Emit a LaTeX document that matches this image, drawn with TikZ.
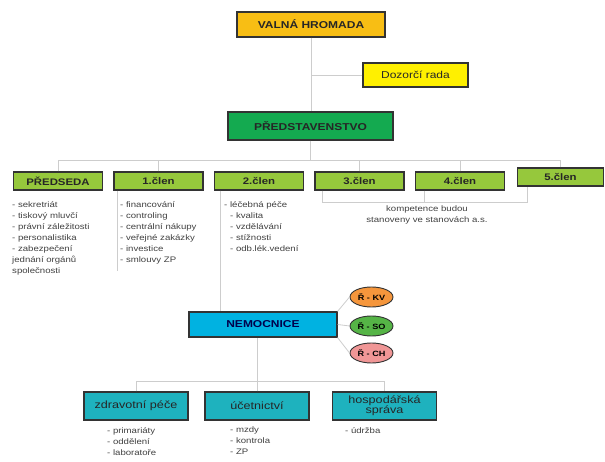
\documentclass[tikz,border=0pt]{standalone}
\usepackage{fontspec}
\setmainfont{Liberation Sans}[FakeStretch=1.2]
\usetikzlibrary{positioning,shapes.geometric}
\definecolor{valnaorange}{RGB}{248,190,20}
\definecolor{dozoryellow}{RGB}{255,240,0}
\definecolor{predgreen}{RGB}{20,170,80}
\definecolor{clengreen}{RGB}{150,200,60}
\definecolor{nemcyan}{RGB}{0,178,225}
\definecolor{oddteal}{RGB}{30,178,190}
\definecolor{kvorange}{RGB}{245,150,60}
\definecolor{sogreen}{RGB}{85,180,70}
\definecolor{chpink}{RGB}{240,150,150}
\definecolor{linegray}{RGB}{205,205,205}

\begin{document}
\begin{tikzpicture}[x=1pt,y=-1pt,node distance=100.5pt,
	box/.style={draw=black!80,line width=1.1pt,minimum height=18pt,inner sep=1pt,text=black!85,font=\fontsize{10}{11}\selectfont\bfseries},
	clen/.style={box,fill=clengreen,minimum width=89pt,font=\fontsize{9.5}{10}\selectfont\bfseries},
	odd/.style={box,fill=oddteal,minimum width=104pt,minimum height=28pt,align=center,font=\fontsize{10.5}{10}\selectfont},
	reditel/.style={ellipse,draw=black!80,line width=0.9pt,minimum width=43pt,minimum height=20pt,inner sep=0pt,font=\fontsize{7.6}{8}\selectfont\bfseries},
	list/.style={anchor=north west,align=left,inner sep=0pt,text=black!75,font=\fontsize{8}{11}\selectfont},
	line/.style={draw=linegray,line width=0.8pt}]
	\useasboundingbox (0,0) rectangle (605,462);

	% vedeni spolecnosti
	\node[box,fill=valnaorange,minimum width=148pt,minimum height=25pt] (valna) at (311,24.5) {VALNÁ HROMADA};
	\node[box,fill=dozoryellow,minimum width=105pt,minimum height=24pt,font=\fontsize{10}{11}\selectfont] (dozor) at (415.5,75) {Dozorčí rada};
	\node[box,fill=predgreen,minimum width=165pt,minimum height=28pt] (pred) at (310.5,126) {PŘEDSTAVENSTVO};

	% clenove predstavenstva
	\node[clen] (ps) at (58,181) {PŘEDSEDA};
	\node[clen] (c1) [right of=ps] {1.člen};
	\node[clen] (c2) [right of=c1] {2.člen};
	\node[clen] (c3) [right of=c2] {3.člen};
	\node[clen] (c4) [right of=c3] {4.člen};
	\node[clen,minimum width=86pt] (c5) [right of=c4,yshift=4pt] {5.člen};

	\node[list] (psl) at (12,201) {- sekretriát\\- tiskový mluvčí\\- právní záležitosti\\- personalistika\\- zabezpečení\\jednání orgánů\\společnosti};
	\node[list] (c1l) at (120,201) {- financování\\- controling\\- centrální nákupy\\- veřejné zakázky\\- investice\\- smlouvy ZP};
	\node[list] (c2l) at (224,201) {- léčebná péče\\\hspace*{6pt}- kvalita\\\hspace*{6pt}- vzdělávání\\\hspace*{6pt}- stížnosti\\\hspace*{6pt}- odb.lék.vedení};
	\node[list,anchor=north,align=center] (kompl) at (427,206) {kompetence budou\\stanoveny ve stanovách a.s.};

	% nemocnice
	\node[box,fill=nemcyan,minimum width=148pt,minimum height=25pt,text=blue!30!black] (nem) at (263,324.5) {NEMOCNICE};
	\node[reditel,fill=kvorange] (kv) at (371.5,297) {Ř - KV};
	\node[reditel,fill=sogreen] (so) at (371.5,326) {Ř - SO};
	\node[reditel,fill=chpink] (ch) at (371.5,353) {Ř - CH};

	\node[odd] (zp) at (136,406) {zdravotní péče};
	\node[odd] (uc) at (257,406) {účetnictví};
	\node[odd] (hs) at (384.5,406) {hospodářská\\správa};

	\node[list] (zpl) at (107,427) {- primariáty\\- oddělení\\- laboratoře};
	\node[list] (ucl) at (230,427) {- mzdy\\- kontrola\\- ZP};
	\node[list] (hsl) at (345,427) {- údržba};

	% spojnice
	\draw[line] (valna.south) -- (valna.south |- pred.north);
	\draw[line] (dozor.west) -- (dozor.west -| valna.south);
	\draw[line] (pred.south) -- ++(0,20) coordinate (bus);
	\draw[line] (ps.north |- bus) -- (c5.north |- bus);
	\foreach \n in {ps,c1,c3,c4,c5}
		\draw[line] (\n.north) -- (\n.north |- bus);
	\draw[line] ([xshift=4pt]c1.south west) -- ++(0,80);
	\draw[line] ([xshift=6pt]c2.south west) -- ([xshift=6pt]c2.south west |- nem.north);
	\draw[line] ([xshift=8pt]c3.south west) -- ++(0,12) coordinate (br) -| ([xshift=10pt]c5.south west);
	\draw[line] ([xshift=9pt]c4.south west) -- ([xshift=9pt]c4.south west |- br);
	\draw[line] (nem.north east) -- (kv.west);
	\draw[line] (nem.east) -- (so.west);
	\draw[line] (nem.south east) -- (ch.west);
	\draw[line] (uc.north) -- (uc.north |- nem.south);
	\draw[line] (zp.north) -- ++(0,-10) coordinate (bus2) -| (hs.north);
\end{tikzpicture}
\end{document}
